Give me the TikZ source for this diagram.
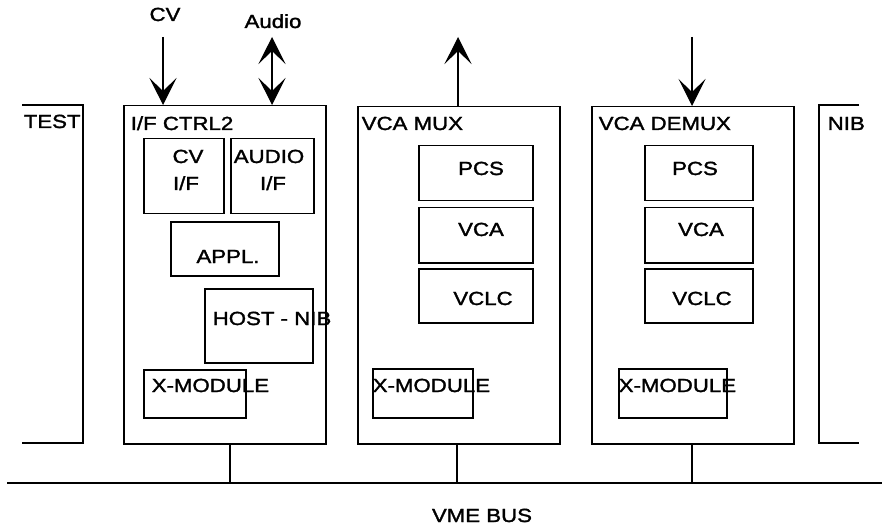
\documentclass[tikz,border=0pt]{standalone}
\usepackage{fontspec}
\setmainfont{Liberation Sans}[FakeStretch=1.17,FakeBold=1.6]
\usetikzlibrary{arrows.meta}
\begin{document}
\begin{tikzpicture}[x=1pt,y=-1pt,
  line width=1.5pt,
  every node/.style={font=\fontsize{19}{22}\selectfont, inner sep=0pt},
  box/.style={draw, anchor=north west, minimum width=#1},
  lbl/.style={anchor=base west},
  ctr/.style={anchor=base},
  bigtip/.tip={Stealth[length=27pt,width=27pt,inset=13pt]},
  conn/.style={line width=1.2pt}]
\useasboundingbox (0,0) rectangle (882,529);

% ---- partial side boards
\draw (22,105) -- (83,105) -- (83,443) -- (22,443);
\node[lbl] (test) at (23,128) {TEST};
\draw (859,105) -- (819,105) -- (819,443) -- (859,443);
\node[lbl] (nib) at (827,130) {NIB};

% ---- I/F CTRL2 board
\node[box=202pt, minimum height=338pt] (ctrl) at (123,105) {};
\node[lbl] (ctrlt) at (130,130) {I/F CTRL2};
\node[box=80pt, minimum height=75pt] (cvif) at (143,138) {};
\node[ctr] (cvt1) at (188,163) {CV};
\node[ctr] (cvt2) at (186,190) {I/F};
\node[box=83pt, minimum height=75pt] (auif) at (230,138) {};
\node[ctr] (aut1) at (269,163) {AUDIO};
\node[ctr] (aut2) at (273,190) {I/F};
\node[box=108pt, minimum height=54pt] (appl) at (170,221) {};
\node[ctr] (applt) at (228,263) {APPL.};
\node[box=108pt, minimum height=74pt] (host) at (204,288) {};
\node[lbl] (hostt) at (212,325) {HOST - NIB};
\node[box=102pt, minimum height=48pt] (xm1) at (143,369) {};
\node[lbl] (xm1t) at (151,392) {X-MODULE};

% ---- VCA MUX board
\node[box=202pt, minimum height=337pt] (mux) at (357,106) {};
\node[lbl] (muxt) at (361,130) {VCA MUX};
\node[box=114pt, minimum height=55pt] (pcs1) at (418,145) {};
\node[ctr] (pcs1t) at (481,175) {PCS};
\node[box=114pt, minimum height=55pt] (vca1) at (418,207) {};
\node[ctr] (vca1t) at (481,236) {VCA};
\node[box=114pt, minimum height=54pt] (vclc1) at (418,268) {};
\node[ctr] (vclc1t) at (483,305) {VCLC};
\node[box=100pt, minimum height=49pt] (xm2) at (372,368) {};
\node[lbl] (xm2t) at (372,392) {X-MODULE};

% ---- VCA DEMUX board
\node[box=202pt, minimum height=337pt] (demux) at (591,106) {};
\node[lbl] (demuxt) at (598,130) {VCA DEMUX};
\node[box=108pt, minimum height=55pt] (pcs2) at (644,145) {};
\node[ctr] (pcs2t) at (695,175) {PCS};
\node[box=108pt, minimum height=55pt] (vca2) at (644,207) {};
\node[ctr] (vca2t) at (701,236) {VCA};
\node[box=108pt, minimum height=54pt] (vclc2) at (644,268) {};
\node[ctr] (vclc2t) at (702,305) {VCLC};
\node[box=108pt, minimum height=49pt] (xm3) at (618,368) {};
\node[lbl] (xm3t) at (618,392) {X-MODULE};

% ---- external signals
\node[ctr] (cvlbl) at (165,21) {CV};
\node[ctr] (aulbl) at (273,28) {Audio};
\coordinate (cvin) at (163,37);
\coordinate (auio) at (272,37);
\coordinate (muxout) at (458,37);
\coordinate (demuxin) at (692,37);
\draw[conn,-bigtip] (cvin) -- (cvin |- ctrl.north);
\draw[conn,bigtip-bigtip] (auio) -- (auio |- ctrl.north);
\draw[conn,-bigtip] (muxout |- mux.north) -- (muxout);
\draw[conn,-bigtip] (demuxin) -- (demuxin |- demux.north);

% ---- VME bus
\coordinate (busL) at (7,483);
\coordinate (busR) at (882,483);
\draw (busL) -- (busR);
\coordinate (b1) at (230,483);
\coordinate (b2) at (457,483);
\coordinate (b3) at (692,483);
\draw[conn] (ctrl.south -| b1) -- (b1);
\draw[conn] (mux.south -| b2) -- (b2);
\draw[conn] (demux.south -| b3) -- (b3);
\node[ctr] (vme) at (482,522) {VME BUS};
\end{tikzpicture}
\end{document}
